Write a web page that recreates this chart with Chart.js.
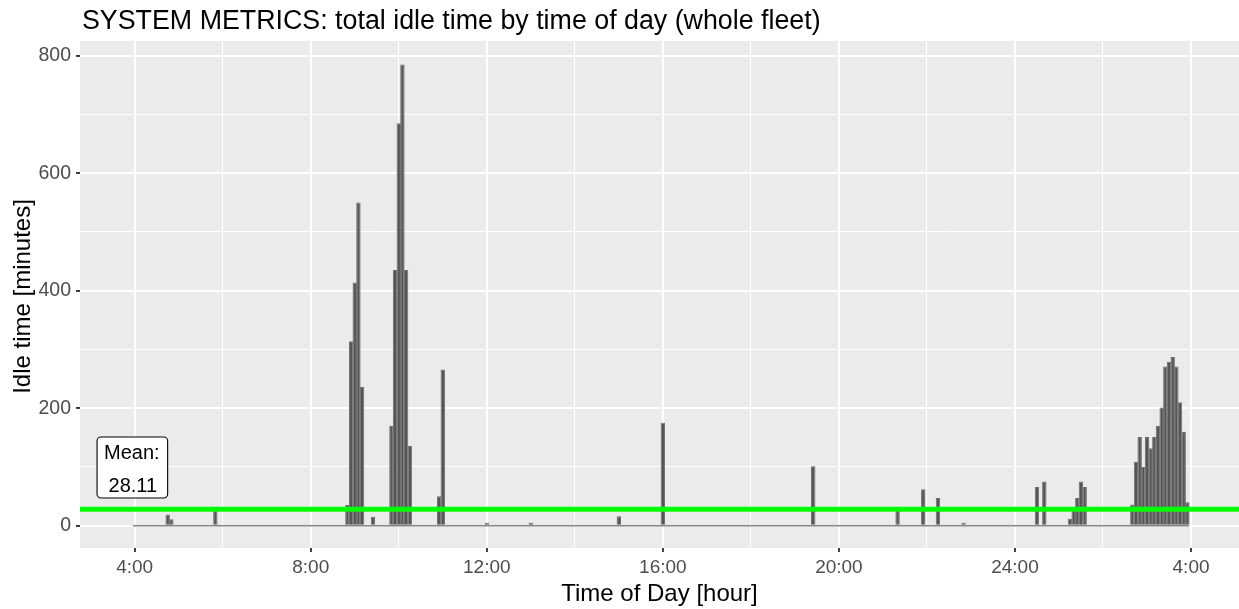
<!DOCTYPE html>
<html>
<head>
<meta charset="utf-8">
<title>SYSTEM METRICS: total idle time by time of day</title>
<script src="https://cdn.jsdelivr.net/npm/chart.js@4.4.1/dist/chart.umd.min.js"></script>
<style>
  html, body { margin: 0; padding: 0; background: #fff; }
  #wrap { width: 1239px; height: 609px; }
</style>
</head>
<body>
<div id="wrap"><canvas id="idleChart" width="1239" height="609"></canvas></div>
<script>
// 5 minute bins from 4:00 to 4:00 next day, only the non-zero ones listed
const binStartHour = 4;
const binCount = 288;
const busyBins = [
  '4:45', '4:50', '5:50',
  '8:50', '8:55', '9:00', '9:05', '9:10', '9:25',
  '9:50', '9:55', '10:00', '10:05', '10:10', '10:15',
  '10:55', '11:00', '12:00', '13:00', '15:00', '16:00', '19:25',
  '21:20', '21:55', '22:15', '22:50', '24:30', '24:40',
  '25:15', '25:20', '25:25', '25:30', '25:35',
  '26:40', '26:45', '26:50', '26:55', '27:00', '27:05', '27:10', '27:15',
  '27:20', '27:25', '27:30', '27:35', '27:40', '27:45', '27:50', '27:55'
];
const idleMinutes = [
  19, 11, 25,
  35, 314, 414, 550, 236, 15,
  170, 435, 685, 785, 435, 136,
  50, 266, 5, 5, 16, 175, 101,
  25, 62, 47, 5, 66, 75,
  12, 25, 47, 75, 66,
  36, 109, 151, 100, 151, 132, 151, 170,
  201, 271, 279, 287, 271, 210, 160, 40
];
const meanIdle = 28.11;

const xTickHours = [4, 8, 12, 16, 20, 24, 28];
const xTickLabels = ['4:00', '8:00', '12:00', '16:00', '20:00', '24:00', '4:00'];
const yTickValues = [0, 200, 400, 600, 800];

// axis limits (ggplot style expansion)
const xMin = 2.758, xMax = 29.09;
const yMin = -38, yMax = 825;

const FONT = '"Liberation Sans", Arial, sans-serif';
Chart.defaults.font.family = FONT;

function toHours(s) {
  var p = s.split(':');
  return parseInt(p[0], 10) + parseInt(p[1], 10) / 60;
}

// build all bins
var bins = [];
for (var i = 0; i < binCount; i++) {
  bins.push({ x: binStartHour + i * 5 / 60, y: 0 });
}
busyBins.forEach(function (t, k) {
  var idx = Math.round((toHours(t) - binStartHour) * 12);
  bins[idx].y = idleMinutes[k];
});
var halfBin = 2.5 / 60;
var firstEdge = bins[0].x - halfBin;
var lastEdge = bins[bins.length - 1].x + halfBin;

function isMajorX(v) { return xTickHours.indexOf(v) >= 0; }
function isMajorY(v) { return yTickValues.indexOf(v) >= 0; }

// panel background + texts
const ggPlugin = {
  id: 'ggLook',
  beforeDraw: function (chart) {
    var a = chart.chartArea, c = chart.ctx;
    c.save();
    c.fillStyle = '#EBEBEB';
    c.fillRect(a.left, a.top, a.right - a.left, a.bottom - a.top);
    c.restore();
  },
  afterDatasetsDraw: function (chart) {
    var c = chart.ctx;
    var sx = chart.scales.x, sy = chart.scales.y;
    // mean label box
    var cx = sx.getPixelForValue(3.936);
    var cy = sy.getPixelForValue(100);
    var lines = ['Mean:', meanIdle.toFixed(2)];
    c.save();
    c.font = '20px ' + FONT;
    var w = Math.max(c.measureText(lines[0]).width, c.measureText(lines[1]).width) + 15;
    var h = 61;
    var x0 = cx - w / 2, y0 = cy - h / 2;
    c.beginPath();
    c.roundRect(x0 + 0.5, y0 + 0.5, w, h, 4);
    c.fillStyle = '#fff';
    c.fill();
    c.lineWidth = 1.1;
    c.strokeStyle = '#000';
    c.stroke();
    c.fillStyle = '#000';
    c.textAlign = 'center';
    c.textBaseline = 'alphabetic';
    c.fillText(lines[0], cx, cy - 7.5);
    c.fillText(lines[1], cx + 1, cy + 25);
    c.restore();
  },
  afterDraw: function (chart) {
    var c = chart.ctx, a = chart.chartArea;
    c.save();
    c.fillStyle = '#000';
    c.textBaseline = 'alphabetic';
    c.font = '26.8px ' + FONT;
    c.textAlign = 'left';
    c.fillText('SYSTEM METRICS: total idle time by time of day (whole fleet)', 82, 29);
    c.font = '24px ' + FONT;
    c.textAlign = 'center';
    c.fillText('Time of Day [hour]', (a.left + a.right) / 2, 601);
    c.translate(30, (a.top + a.bottom) / 2 + 2);
    c.rotate(-Math.PI / 2);
    c.fillText('Idle time [minutes]', 0, 0);
    c.restore();
  }
};

var ctx = document.getElementById('idleChart').getContext('2d');
var idleChart = new Chart(ctx, {
  type: 'bar',
  data: {
    datasets: [
      {
        type: 'line',
        label: 'mean',
        data: [{ x: xMin, y: meanIdle }, { x: xMax, y: meanIdle }],
        borderColor: '#00FF00',
        borderWidth: 5,
        pointRadius: 0,
        order: 0
      },
      {
        type: 'bar',
        label: 'idle',
        data: bins,
        backgroundColor: '#565656',
        borderColor: '#6e6e6e',
        borderWidth: 1,
        borderSkipped: 'start',
        barPercentage: 1.2,
        categoryPercentage: 1,
        order: 1
      },
      {
        type: 'line',
        label: 'zero',
        data: [{ x: firstEdge, y: 0 }, { x: lastEdge, y: 0 }],
        borderColor: '#858585',
        borderWidth: 1.5,
        pointRadius: 0,
        order: 2
      }
    ]
  },
  options: {
    responsive: false,
    animation: false,
    layout: { padding: { top: 41, left: 0, right: 0, bottom: 0 } },
    plugins: {
      legend: { display: false },
      tooltip: { enabled: false },
      title: { display: false }
    },
    scales: {
      x: {
        type: 'linear',
        min: xMin,
        max: xMax,
        offset: false,
        border: { display: false },
        grid: {
          offset: false,
          color: '#FFFFFF',
          lineWidth: function (c) { return c.tick && isMajorX(c.tick.value) ? 1.9 : 0.95; },
          tickColor: function (c) { return c.tick && isMajorX(c.tick.value) ? '#333333' : 'rgba(0,0,0,0)'; },
          tickLength: 4,
          tickWidth: 1.9
        },
        ticks: {
          stepSize: 2,
          includeBounds: false,
          autoSkip: false,
          maxRotation: 0,
          padding: 4,
          color: '#4D4D4D',
          font: { size: 19 },
          callback: function (v) {
            var k = xTickHours.indexOf(v);
            return k >= 0 ? xTickLabels[k] : '';
          }
        },
        afterFit: function (s) { s.height = 61; }
      },
      y: {
        min: yMin,
        max: yMax,
        border: { display: false },
        grid: {
          color: '#FFFFFF',
          lineWidth: function (c) { return c.tick && isMajorY(c.tick.value) ? 1.9 : 0.95; },
          tickColor: function (c) { return c.tick && isMajorY(c.tick.value) ? '#333333' : 'rgba(0,0,0,0)'; },
          tickLength: 4,
          tickWidth: 1.9
        },
        ticks: {
          stepSize: 100,
          includeBounds: false,
          autoSkip: false,
          padding: 5,
          color: '#4D4D4D',
          font: { size: 19.5 },
          callback: function (v) { return isMajorY(v) ? String(v) : ''; }
        },
        afterFit: function (s) { s.width = 80; }
      }
    }
  },
  plugins: [ggPlugin]
});
</script>
</body>
</html>
